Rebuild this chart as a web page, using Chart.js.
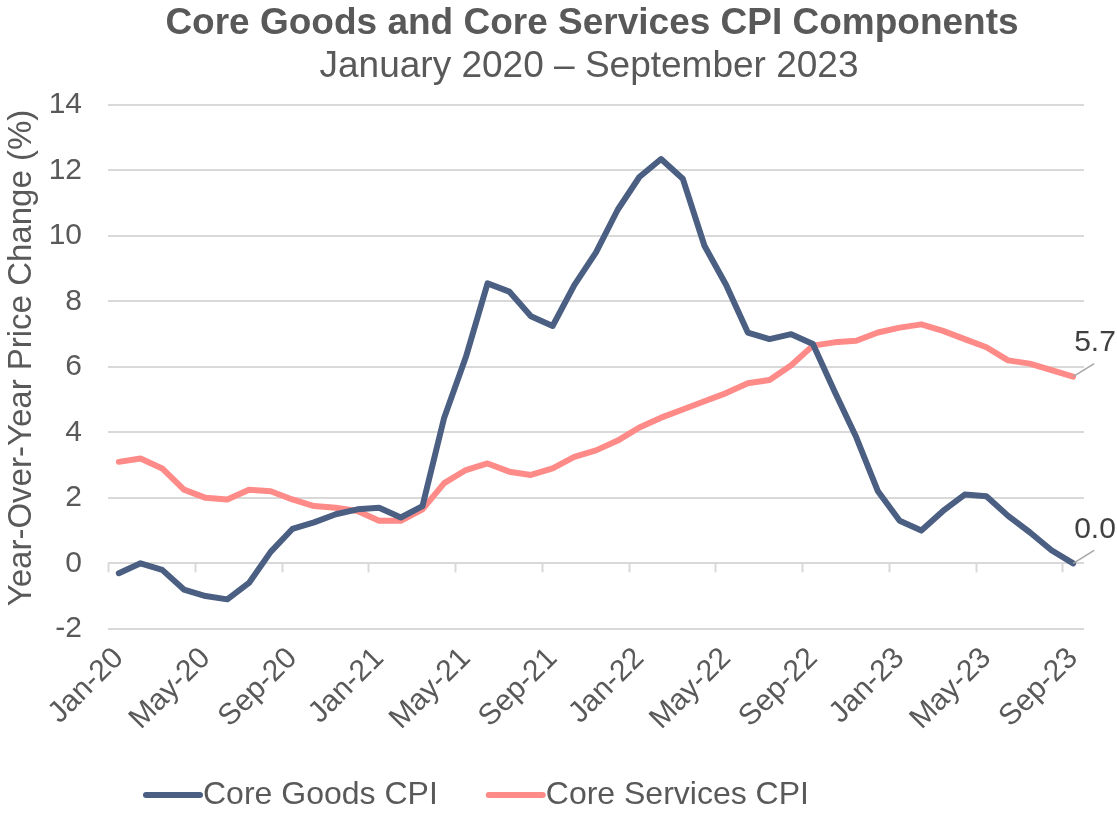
<!DOCTYPE html>
<html>
<head>
<meta charset="utf-8">
<script src="https://cdn.jsdelivr.net/npm/chart.js@4.4.0/dist/chart.umd.min.js"></script>
<style>
  body { margin: 0; background: #fff; }
  #wrap { width: 1117px; height: 813px; position: relative; }
</style>
</head>
<body>
<div id="wrap"><canvas id="myChart"></canvas></div>
<script>
// DATA
const months = [
  'Jan-20', 'Feb-20', 'Mar-20', 'Apr-20', 'May-20', 'Jun-20', 'Jul-20', 'Aug-20', 'Sep-20', 'Oct-20', 'Nov-20', 'Dec-20',
  'Jan-21', 'Feb-21', 'Mar-21', 'Apr-21', 'May-21', 'Jun-21', 'Jul-21', 'Aug-21', 'Sep-21', 'Oct-21', 'Nov-21', 'Dec-21',
  'Jan-22', 'Feb-22', 'Mar-22', 'Apr-22', 'May-22', 'Jun-22', 'Jul-22', 'Aug-22', 'Sep-22', 'Oct-22', 'Nov-22', 'Dec-22',
  'Jan-23', 'Feb-23', 'Mar-23', 'Apr-23', 'May-23', 'Jun-23', 'Jul-23', 'Aug-23', 'Sep-23'
]
const coreGoods = [
  -0.3, 0.0, -0.2, -0.8, -1.0, -1.1, -0.6, 0.35, 1.05, 1.25, 1.5, 1.65,
  1.7, 1.4, 1.75, 4.45, 6.3, 8.55, 8.3, 7.55, 7.25, 8.5, 9.5, 10.8,
  11.8, 12.35, 11.75, 9.7, 8.5, 7.05, 6.85, 7.0, 6.7, 5.25, 3.85, 2.2,
  1.3, 1.0, 1.6, 2.1, 2.05, 1.45, 0.95, 0.4, 0.0
]
const coreServices = [
  3.1, 3.2, 2.9, 2.25, 2.0, 1.95, 2.25, 2.2, 1.95, 1.75, 1.7, 1.6,
  1.3, 1.3, 1.65, 2.45, 2.85, 3.05, 2.8, 2.7, 2.9, 3.25, 3.45, 3.75,
  4.15, 4.45, 4.7, 4.95, 5.2, 5.5, 5.6, 6.05, 6.65, 6.75, 6.8, 7.05,
  7.2, 7.3, 7.1, 6.85, 6.6, 6.2, 6.1, 5.9, 5.7
]
const seriesNames = ['Core Goods CPI', 'Core Services CPI']
const seriesColors = ['#4b5f83', '#ff8b88']
const yTicks = [-2, 0, 2, 4, 6, 8, 10, 12, 14]

const FONT = "'Liberation Sans', Arial, sans-serif"
const GREY = '#595959'

// TITLE, SUBTITLE AND Y AXIS TITLE (drawn by hand to sit where the original has them)
const titleBlock = {
  id: 'titleBlock',
  afterDraw(chart) {
    const { ctx } = chart
    ctx.save()
    ctx.fillStyle = GREY
    ctx.textAlign = 'center'
    ctx.textBaseline = 'alphabetic'
    ctx.font = 'bold 37px ' + FONT
    ctx.fillText('Core Goods and Core Services CPI Components', 592, 34)
    ctx.font = '37px ' + FONT
    ctx.fillText('January 2020 – September 2023', 589, 77)
    ctx.translate(22, 358)
    ctx.rotate(-Math.PI / 2)
    ctx.textBaseline = 'middle'
    ctx.font = '33px ' + FONT
    ctx.fillText('Year-Over-Year Price Change (%)', 0, 0)
    ctx.restore()
  }
}

// tick marks on the zero line, every 4 months at category edges
const zeroTicks = {
  id: 'zeroTicks',
  afterDatasetsDraw(chart) {
    const { ctx, scales: { x, y } } = chart
    const y0 = y.getPixelForValue(0)
    const half = (x.getPixelForValue(1) - x.getPixelForValue(0)) / 2
    ctx.save()
    ctx.strokeStyle = '#d9d9d9'
    ctx.lineWidth = 2
    for (let i = 0; i < months.length; i += 4) {
      const px = Math.round(x.getPixelForValue(i) - half) + 0.5
      ctx.beginPath()
      ctx.moveTo(px, y0)
      ctx.lineTo(px, y0 + 9)
      ctx.stroke()
    }
    ctx.restore()
  }
}

// value label on the last point with a short leader line
const endLabels = {
  id: 'endLabels',
  afterDatasetsDraw(chart) {
    const { ctx } = chart
    ctx.save()
    chart.data.datasets.forEach((ds, i) => {
      const meta = chart.getDatasetMeta(i)
      const pt = meta.data[meta.data.length - 1]
      const val = ds.data[ds.data.length - 1]
      ctx.strokeStyle = '#a6a6a6'
      ctx.lineWidth = 1.5
      ctx.beginPath()
      ctx.moveTo(pt.x, pt.y)
      ctx.lineTo(pt.x + 21, pt.y - 13)
      ctx.stroke()
      ctx.fillStyle = '#404040'
      ctx.font = '30px ' + FONT
      ctx.textBaseline = 'middle'
      ctx.textAlign = 'left'
      ctx.fillText(val.toFixed(1), pt.x + 1, pt.y - 34)
    })
    ctx.restore()
  }
}

// legend drawn at the bottom
const bottomLegend = {
  id: 'bottomLegend',
  afterDraw(chart) {
    const { ctx } = chart
    let x = 143
    const y = 795
    ctx.save()
    ctx.font = '32px ' + FONT
    ctx.textBaseline = 'middle'
    chart.data.datasets.forEach((ds) => {
      ctx.strokeStyle = ds.borderColor
      ctx.lineWidth = 6
      ctx.lineCap = 'round'
      ctx.beginPath()
      ctx.moveTo(x + 3, y)
      ctx.lineTo(x + 57, y)
      ctx.stroke()
      ctx.fillStyle = GREY
      ctx.fillText(ds.label, x + 60, y)
      x += 60 + ctx.measureText(ds.label).width + 48
    })
    ctx.restore()
  }
}

const ctx = document.getElementById('myChart').getContext('2d')
const myChart = new Chart(ctx, {
  type: 'line',
  data: {
    labels: months,
    datasets: [
      { label: seriesNames[0], data: coreGoods, borderColor: seriesColors[0], backgroundColor: seriesColors[0] },
      { label: seriesNames[1], data: coreServices, borderColor: seriesColors[1], backgroundColor: seriesColors[1] }
    ]
  },
  options: {
    responsive: true,
    maintainAspectRatio: false,
    animation: false,
    elements: {
      line: { borderWidth: 6, tension: 0, borderJoinStyle: 'round', borderCapStyle: 'round' },
      point: { radius: 0, hoverRadius: 0 }
    },
    layout: { padding: { left: 0, right: 33, top: 105, bottom: 72 } },
    plugins: {
      legend: { display: false },
      tooltip: { enabled: false },
      title: { display: false }
    },
    scales: {
      x: {
        offset: true,
        grid: { display: false },
        border: { display: false },
        afterFit: (scale) => { scale.paddingLeft = 0; scale.paddingRight = 0 },
        ticks: {
          autoSkip: false,
          maxRotation: 45,
          minRotation: 45,
          padding: 4,
          color: GREY,
          font: { family: FONT, size: 30 },
          callback: (v, i) => (i % 4 === 0 ? months[i] : '')
        }
      },
      y: {
        min: yTicks[0],
        max: yTicks[yTicks.length - 1],
        afterBuildTicks: (scale) => { scale.ticks = yTicks.map(v => ({ value: v })) },
        afterFit: (scale) => { scale.width = 108 },
        grid: { color: '#d9d9d9', lineWidth: 2, drawTicks: false },
        border: { display: false },
        ticks: { padding: 26, color: GREY, font: { family: FONT, size: 30 } },
        title: { display: false }
      }
    }
  },
  plugins: [titleBlock, zeroTicks, endLabels, bottomLegend]
})
</script>
</body>
</html>
